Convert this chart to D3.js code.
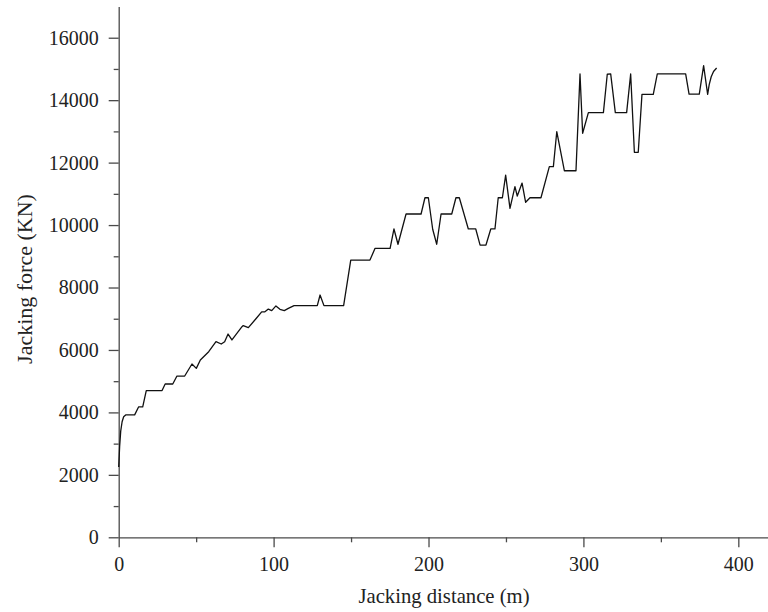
<!DOCTYPE html>
<html>
<head>
<meta charset="utf-8">
<script src="https://cdn.jsdelivr.net/npm/d3@7"></script>
<style>
  body { margin: 0; background: #fff; }
  text { font-family: "Liberation Serif", "DejaVu Serif", serif; fill: #222; }
</style>
</head>
<body>
<svg id="chart" width="768" height="612"></svg>
<script>
// values
var distance = [0, 0.6, 1.3, 2.2, 3.2, 4.5, 10.3, 12.9, 15.5, 17.8, 28, 30, 34.9, 37.6, 42.6,
    47.3, 50.1, 52.7, 58.1, 62.8, 66.2, 68.4, 70.6, 73.1, 79.6, 80.4, 83.7, 88.6, 92.3,
    94.4, 96.6, 98.8, 101.5, 104.1, 106.9, 109.5, 113.2, 128.2, 130, 132.5, 145.2, 149.8,
    162.2, 165.5, 175.2, 177.7, 180.3, 185.5, 195.2, 197.7, 199.9, 202.7, 205.3, 208.1,
    215, 217.7, 219.9, 225.7, 230.5, 233.3, 237.1, 240.2, 242.9, 245, 247.7, 249.8, 252.6,
    255.8, 257.3, 260.4, 262.7, 265.5, 272.6, 278, 280.6, 282.8, 287.7, 295.2, 297.8,
    299.5, 303.2, 312.9, 315.4, 317.6, 320.6, 327.9, 330.5, 332.9, 335.4, 337.8, 345.1,
    347.7, 366, 368.2, 374.8, 377.6, 380.2, 381.2, 382.5, 384, 386];
var force = [2250, 2900, 3400, 3700, 3860, 3920, 3920, 4180, 4180, 4700, 4700, 4910, 4910, 5165, 5165,
    5550, 5410, 5680, 5945, 6265, 6190, 6265, 6510, 6320, 6745, 6780, 6715, 7000, 7220,
    7220, 7310, 7260, 7410, 7300, 7260, 7330, 7420, 7420, 7760, 7420, 7420, 8880,
    8880, 9255, 9255, 9875, 9385, 10355, 10355, 10875, 10875, 9865, 9385, 10355,
    10355, 10875, 10875, 9875, 9875, 9360, 9360, 9875, 9875, 10875, 10875, 11600, 10535,
    11230, 10930, 11345, 10730, 10875, 10875, 11870, 11870, 12990, 11740, 11740, 14840,
    12940, 13600, 13600, 14830, 14840, 13600, 13600, 14840, 12330, 12330, 14185, 14185,
    14840, 14840, 14195, 14195, 15105, 14185, 14500, 14750, 14920, 15030];

var xMajor = [0, 100, 200, 300, 400];
var xMinor = [50, 150, 250, 350];
var yMajor = [0, 2000, 4000, 6000, 8000, 10000, 12000, 14000, 16000];
var yMinor = [1000, 3000, 5000, 7000, 9000, 11000, 13000, 15000];

var svg = d3.select("#chart");

var x = d3.scaleLinear().domain([0, 420]).range([118.7, 769.3]);
var y = d3.scaleLinear().domain([0, 17000]).range([537.3, 6.5]);

// minor ticks first
svg.append("g")
    .attr("transform", "translate(0," + y(0) + ")")
    .call(d3.axisBottom(x).tickValues(xMinor).tickSize(5).tickSizeOuter(0).tickFormat(""))
    .call(function (g) { g.select(".domain").remove(); });

svg.append("g")
    .attr("transform", "translate(" + x(0) + ",0)")
    .call(d3.axisLeft(y).tickValues(yMinor).tickSize(5).tickSizeOuter(0).tickFormat(""))
    .call(function (g) { g.select(".domain").remove(); });

svg.append("g")
    .attr("transform", "translate(0," + y(0) + ")")
    .call(d3.axisBottom(x).tickValues(xMajor).tickSize(10).tickSizeOuter(0)
        .tickPadding(10).tickFormat(d3.format("d")));

svg.append("g")
    .attr("transform", "translate(" + x(0) + ",0)")
    .call(d3.axisLeft(y).tickValues(yMajor).tickSize(10).tickSizeOuter(0)
        .tickPadding(10).tickFormat(d3.format("d")));

svg.selectAll(".tick line, .domain")
    .attr("stroke", "#4a4a4a")
    .attr("stroke-width", 1.3);

svg.selectAll(".tick text")
    .attr("font-family", "Liberation Serif")
    .attr("font-size", "20px")
    .attr("fill", "#222");

svg.append("text")
    .attr("x", x(210))
    .attr("y", 603)
    .attr("text-anchor", "middle")
    .attr("font-size", "20.7px")
    .text("Jacking distance (m)");

svg.append("text")
    .attr("transform", "translate(32,279) rotate(-90)")
    .attr("text-anchor", "middle")
    .attr("font-size", "22px")
    .text("Jacking force (KN)");

var line = d3.line()
    .x(function (d, i) { return x(distance[i]); })
    .y(function (d) { return y(d); });

svg.append("path")
    .datum(force)
    .attr("fill", "none")
    .attr("stroke", "#111")
    .attr("stroke-width", 1.3)
    .attr("stroke-linejoin", "round")
    .attr("d", line);
</script>
</body>
</html>
